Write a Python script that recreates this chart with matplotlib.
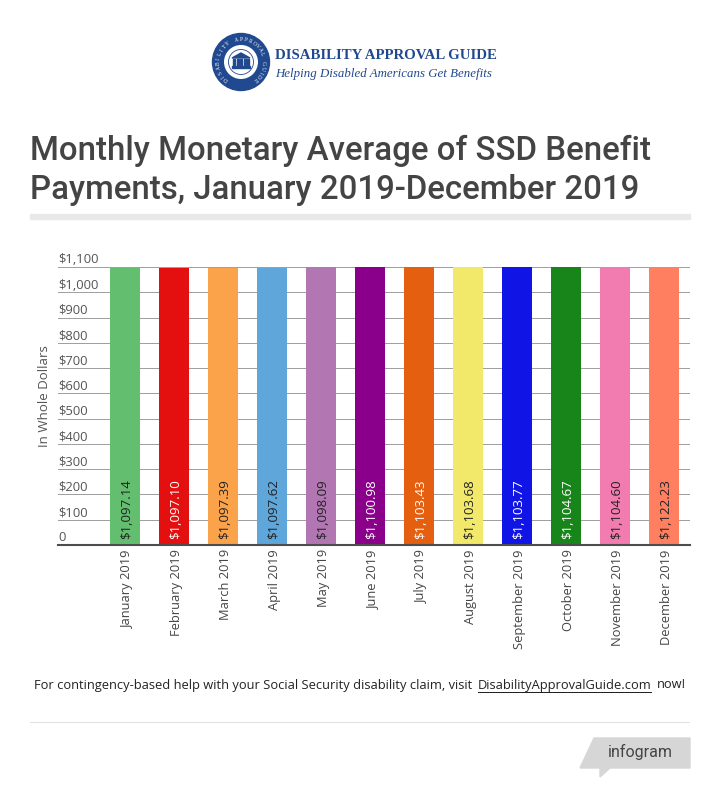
import math
import matplotlib
matplotlib.use("Agg")
import matplotlib.pyplot as plt
from matplotlib.patches import Circle, Polygon, Rectangle
from matplotlib.transforms import ScaledTranslation

plt.rcParams["font.family"] = ["Open Sans", "DejaVu Sans"]

months = ["January 2019", "February 2019", "March 2019", "April 2019", "May 2019", "June 2019",
          "July 2019", "August 2019", "September 2019", "October 2019", "November 2019", "December 2019"]
payments = [1097.14, 1097.10, 1097.39, 1097.62, 1098.09, 1100.98,
            1103.43, 1103.68, 1103.77, 1104.67, 1104.60, 1122.23]
bar_colors = ["#64be6f", "#e3100f", "#fba34a", "#5fa6da", "#b276b2", "#8b008b",
              "#e45f10", "#f2e96b", "#1015e6", "#17851a", "#f27cb0", "#ff7f60"]
label_colors = ["#222222", "#ffffff", "#222222", "#222222", "#222222", "#ffffff",
                "#ffffff", "#222222", "#ffffff", "#ffffff", "#222222", "#222222"]
y_ticks = [0, 100, 200, 300, 400, 500, 600, 700, 800, 900, 1000, 1100]
y_labels = ["0", "$100", "$200", "$300", "$400", "$500", "$600", "$700", "$800", "$900", "$1,000", "$1,100"]

W, H = 720, 794
NAVY = "#21498f"
fig = plt.figure(figsize=(W / 100, H / 100), dpi=100)

# fond en pixels pour le logo, le titre, le pied de page
bg = fig.add_axes([0, 0, 1, 1])
bg.set_xlim(0, W)
bg.set_ylim(H, 0)
bg.axis("off")

# logo
bg.add_patch(Circle((241, 62), 28.5, color=NAVY))
bg.add_patch(Circle((241, 62), 17, fc="white", ec="none"))
bg.add_patch(Circle((241, 62), 12.5, fc="white", ec=NAVY, lw=0.6))
bg.add_patch(Polygon([[232, 58], [241, 53], [250, 58]], color=NAVY))
for px in [234, 237.5, 241, 244.5, 248]:
    bg.add_patch(Rectangle((px - 1, 59), 2, 7, color=NAVY))
bg.add_patch(Rectangle((232, 66), 18, 2, color=NAVY))
# texte du sceau, lettre par lettre sur l'anneau
seal = "DISABILITY APPROVAL GUIDE"
for i, ch in enumerate(seal):
    ang = math.radians(230 - i * 280 / (len(seal) - 1))
    bg.text(241 + 22.5 * math.cos(ang), 62 - 22.5 * math.sin(ang), ch, size=4, color="white",
            rotation=math.degrees(ang) - 90, ha="center", va="center", family="Liberation Serif")
bg.text(275, 55.5, "DISABILITY APPROVAL GUIDE", family="Liberation Serif", weight="bold",
        size=10.7, color=NAVY, va="center", ha="left")
bg.text(275, 73.5, "Helping Disabled Americans Get Benefits", family="Liberation Serif", style="italic",
        size=9.3, color=NAVY, va="center", ha="left")

# titre
bg.text(30, 151, "Monthly Monetary Average of SSD Benefit", size=23.8, family="Roboto", weight="medium",
        color="#444444", va="center", ha="left")
bg.text(30, 190, "Payments, January 2019-December 2019", size=23.8, family="Roboto", weight="medium",
        color="#444444", va="center", ha="left")
bg.add_patch(Rectangle((30, 214), 660, 5, color="#e9e9e9"))

# pied de page
foot_y = 685
foot_size = 9.3
t1 = bg.text(34, foot_y, "For contingency-based help with your Social Security disability claim, visit ",
             size=foot_size, color="#222222", va="center", ha="left")
fig.canvas.draw()
r = fig.canvas.get_renderer()
x1 = bg.transData.inverted().transform(t1.get_window_extent(r))[1][0] + 2
t2 = bg.text(x1, foot_y, "DisabilityApprovalGuide.com", size=foot_size, color="#222222", va="center", ha="left")
x2 = bg.transData.inverted().transform(t2.get_window_extent(r))[1][0]
bg.plot([x1, x2], [foot_y + 7, foot_y + 7], color="#222222", lw=0.72)
bg.text(x2 + 5, foot_y, "now!", size=foot_size, color="#222222", va="center", ha="left")
bg.add_patch(Rectangle((30, 722), 660, 1, color="#e0e0e0", lw=0))

# badge infogram
bg.add_patch(Polygon([[594, 738], [690, 738], [690, 768], [610, 768], [600, 777], [600, 768], [580, 768]],
                     color="#d6d6d6"))
bg.text(640, 752, "infogram", family="Roboto", size=11.5, color="#444444", va="center", ha="center")

# graphique
ax = fig.add_axes([58 / W, 1 - 545 / H, (690 - 58) / W, (545 - 267) / H])
ax.patch.set_alpha(0)
ax.set_xlim(-1.367, 11.53)
ax.set_ylim(0, 1100)
x_pos = list(range(len(months)))
ax.bar(x_pos, payments, width=0.612, color=bar_colors, zorder=3)
ax.set_yticks(y_ticks)
ax.tick_params(axis="y", length=0, labelleft=False)
ax.tick_params(axis="x", length=0, pad=3)
ax.set_xticks(x_pos)
ax.set_xticklabels(months, rotation=90, size=9.3, color="#444444")
shift = ScaledTranslation(2 / 72, 0, fig.dpi_scale_trans)
for lab in ax.get_xticklabels():
    lab.set_transform(lab.get_transform() + shift)
ax.grid(axis="y", color="#a0a0a0", lw=0.72, zorder=1)
ax.grid(axis="x", visible=False)
for side in ["top", "left", "right"]:
    ax.spines[side].set_visible(False)
ax.spines["bottom"].set_color("#4d4d4d")
ax.spines["bottom"].set_linewidth(1.5)
ax.spines["bottom"].set_zorder(5)

for val, lab in zip(y_ticks, y_labels):
    ax.annotate(lab, (0, val), xycoords=ax.get_yaxis_transform(), xytext=(0, 0.5), textcoords="offset points",
                size=9.4, color="#555555", ha="left", va="bottom")

for x, val, c in zip(x_pos, payments, label_colors):
    ax.annotate(f"${val:,.2f}", (x, 0), xytext=(1.2, 4), textcoords="offset points", rotation=90,
                size=9.5, color=c, ha="center", va="bottom", zorder=6)

bg.text(44, 396, "In Whole Dollars", rotation=90, size=9.5, color="#555555", ha="center", va="center")

fig.savefig("out.png", dpi=100)
